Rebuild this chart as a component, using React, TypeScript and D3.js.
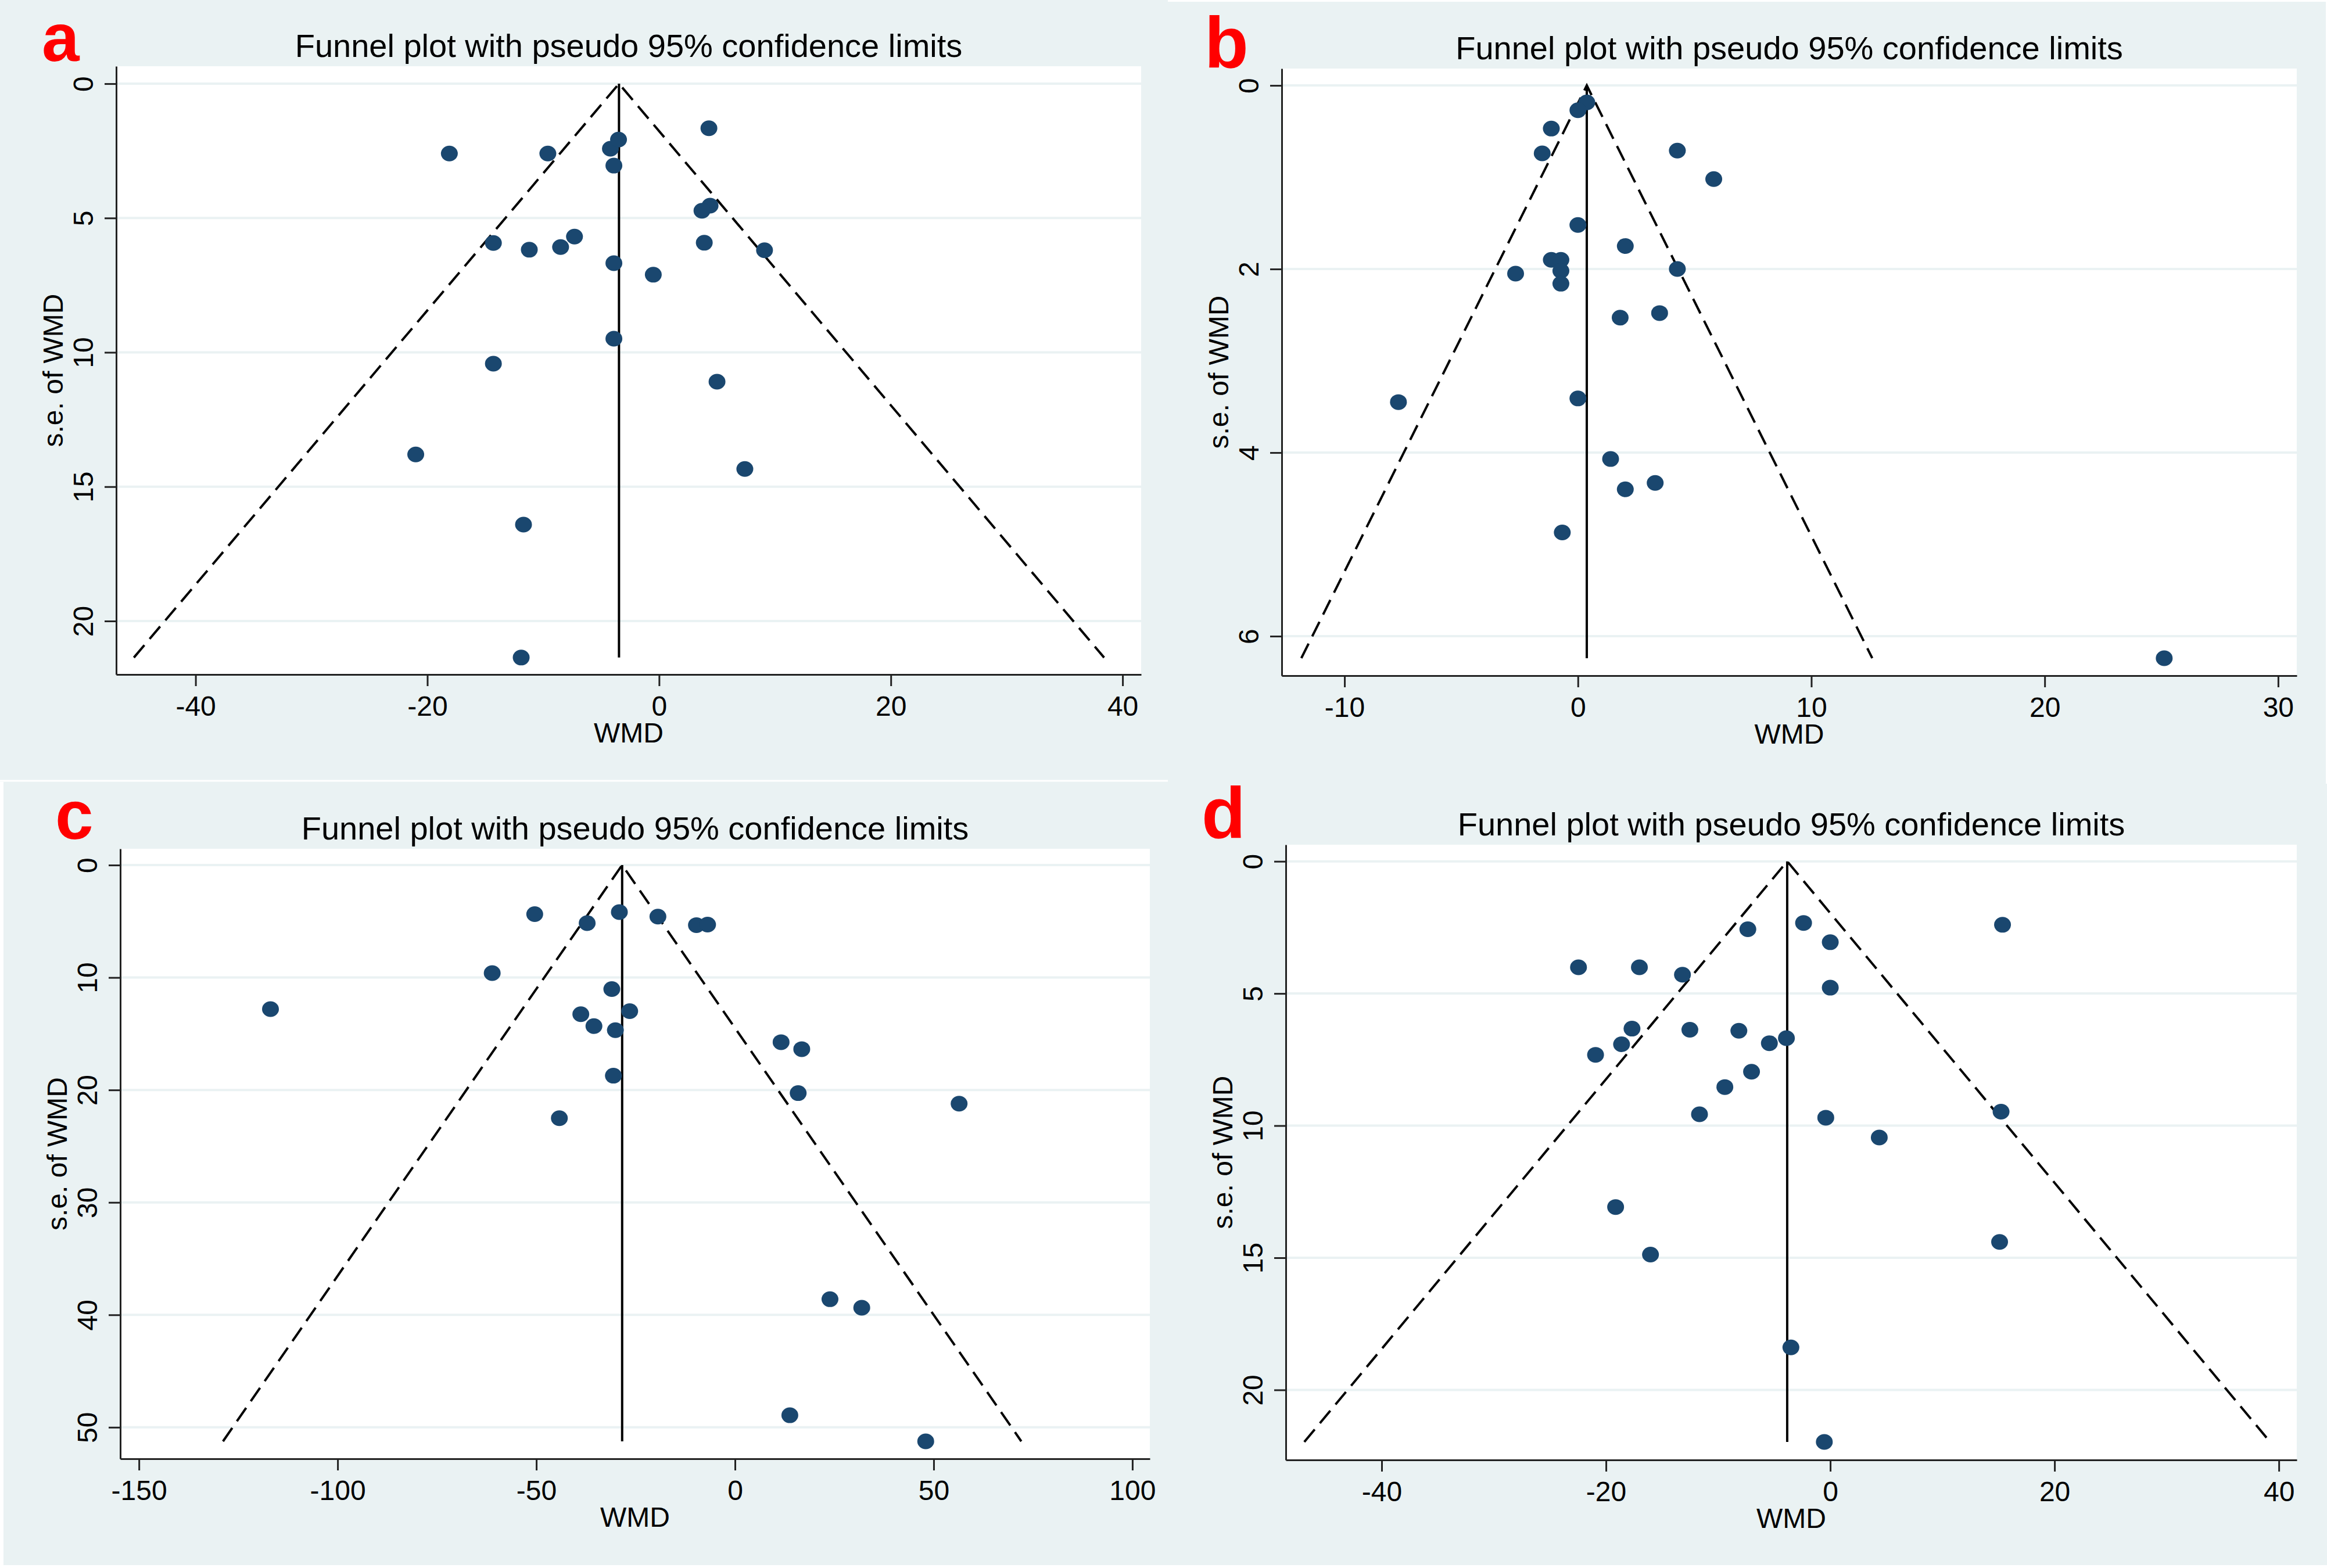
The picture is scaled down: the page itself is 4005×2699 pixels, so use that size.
import React, { useEffect, useRef } from "react";
import * as d3 from "d3";

const W = 4005;
const H = 2699;

const titleText = "Funnel plot with pseudo 95% confidence limits";
const panelLetters = ["a", "b", "c", "d"];

// panel a
const wmdA = [-18.1, -9.6, -4.2, -3.5, -3.9, 4.3, 4.4, 3.7, -14.3, -11.2, -8.5, -7.3, 3.9, 9.1, -3.9, -0.5, -3.9, -14.3, 5.0, -21.0, 7.4, -11.7, -11.9];
const seA = [2.6, 2.6, 2.42, 2.08, 3.05, 1.66, 4.54, 4.73, 5.93, 6.18, 6.08, 5.69, 5.92, 6.2, 6.68, 7.11, 9.49, 10.42, 11.09, 13.8, 14.34, 16.41, 21.36];
const xTicksA = [-40, -20, 0, 20, 40];
const yTicksA = [0, 5, 10, 15, 20];

// panel b
const wmdB = [0.38, 0, -1.14, -1.53, 4.26, 5.82, 0, 2.03, -1.14, -0.73, -2.67, -0.73, -0.73, 4.26, 1.81, 3.5, -7.69, 0, 1.4, 2.03, 3.31, -0.67, 25.12];
const seB = [0.185, 0.27, 0.47, 0.74, 0.71, 1.02, 1.52, 1.75, 1.9, 1.9, 2.05, 2.02, 2.16, 2.0, 2.53, 2.48, 3.45, 3.41, 4.07, 4.4, 4.33, 4.87, 6.24];
const xTicksB = [-10, 0, 10, 20, 30];
const yTicksB = [0, 2, 4, 6];

// panel c
const wmdC = [-50.4, -37.2, -29.1, -19.4, -9.7, -6.9, -61.1, -116.9, -31.0, -38.8, -26.5, -35.5, -30.1, -30.6, 11.6, 16.8, 15.9, 56.4, -44.2, 23.9, 31.9, 13.8, 48.0];
const seC = [4.36, 5.16, 4.18, 4.58, 5.34, 5.29, 9.61, 12.81, 11.03, 13.26, 12.99, 14.32, 14.68, 18.73, 15.75, 16.37, 20.28, 21.22, 22.51, 38.61, 39.37, 48.93, 51.25];
const xTicksC = [-150, -100, -50, 0, 50, 100];
const yTicksC = [0, 10, 20, 30, 40, 50];

// panel d
const wmdD = [-7.35, -2.38, 0, 15.36, -22.45, -17.02, -13.18, 0, -17.68, -12.52, -8.15, -18.61, -20.93, -5.43, -3.91, -7.02, -9.4, -11.66, -0.4, 15.23, 4.37, -19.14, -16.03, 15.1, -3.51, -0.53];
const seD = [2.57, 2.33, 3.06, 2.4, 4.01, 4.01, 4.29, 4.78, 6.33, 6.37, 6.41, 6.92, 7.32, 6.88, 6.69, 7.96, 8.54, 9.57, 9.7, 9.47, 10.45, 13.08, 14.88, 14.4, 18.39, 21.97];
const xTicksD = [-40, -20, 0, 20, 40];
const yTicksD = [0, 5, 10, 15, 20];

// pooled (fixed-effect) WMD of each panel, where the funnel apex sits
const pooledWmd = [-3.46, 0.38, -28.4, -3.84];

const panels = [
  { wmd: wmdA, se: seA, xTicks: xTicksA, yTicks: yTicksA, xDomain: [-46.85, 41.6], yDomain: [-0.65, 21.99], plot: [200, 114, 1964, 1161], letter: [72, 105, 116] },
  { wmd: wmdB, se: seB, xTicks: xTicksB, yTicks: yTicksB, xDomain: [-12.69, 30.8], yDomain: [-0.184, 6.43], plot: [2206, 118, 3953, 1163], letter: [2073, 116, 124] },
  { wmd: wmdC, se: seC, xTicks: xTicksC, yTicks: yTicksC, xDomain: [-154.7, 104.4], yDomain: [-1.45, 52.8], plot: [207, 1461, 1979, 2511], letter: [95, 1444, 118] },
  { wmd: wmdD, se: seD, xTicks: xTicksD, yTicks: yTicksD, xDomain: [-48.55, 41.6], yDomain: [-0.63, 22.65], plot: [2213, 1454, 3953, 2513], letter: [2068, 1442, 124] },
];

const BG = "#EAF2F3";
const DOT = "#1A476F";
const FONT = "'Liberation Sans', Arial, sans-serif";

export default function App() {
  const svgRef = useRef<SVGSVGElement>(null);

  useEffect(() => {
    const svg = d3.select(svgRef.current);
    svg.selectAll("*").remove();

    svg.append("rect").attr("width", W).attr("height", H).attr("fill", BG);
    // thin white seams between the pasted panels
    svg.append("line").attr("x1", 0).attr("x2", 2010).attr("y1", 1344).attr("y2", 1344).attr("stroke", "#fff").attr("stroke-width", 3);
    svg.append("rect").attr("x", 2010).attr("y", 0).attr("width", W - 2010).attr("height", 3).attr("fill", "#fff");
    svg.append("rect").attr("x", 4003).attr("y", 0).attr("width", 2).attr("height", 1349).attr("fill", "#fff");
    svg.append("rect").attr("x", 0).attr("y", 2694).attr("width", W).attr("height", 5).attr("fill", "#fff");
    svg.append("rect").attr("x", 0).attr("y", 1346).attr("width", 6).attr("height", H - 1346).attr("fill", "#fff");

    panels.forEach((p, i) => {
      const [l, t, r, b] = p.plot;
      const x = d3.scaleLinear().domain(p.xDomain).range([l, r]);
      const y = d3.scaleLinear().domain(p.yDomain).range([t, b]);
      const g = svg.append("g");

      g.append("rect").attr("x", l).attr("y", t).attr("width", r - l).attr("height", b - t).attr("fill", "#fff");

      // gridlines
      g.selectAll(".grid")
        .data(p.yTicks)
        .join("line")
        .attr("class", "grid")
        .attr("x1", l)
        .attr("x2", r)
        .attr("y1", (d) => y(d))
        .attr("y2", (d) => y(d))
        .attr("stroke", BG)
        .attr("stroke-width", 4);

      // funnel
      const pooled = pooledWmd[i];
      const maxSe = d3.max(p.se) as number;
      const line = d3.line<[number, number]>().x((d) => x(d[0])).y((d) => y(d[1]));
      g.append("path")
        .attr("d", line([[pooled - 1.96 * maxSe, maxSe], [pooled, 0], [pooled + 1.96 * maxSe, maxSe]]))
        .attr("fill", "none")
        .attr("stroke", "#000")
        .attr("stroke-width", 4)
        .attr("stroke-dasharray", "28 14");
      g.append("line")
        .attr("x1", x(pooled))
        .attr("x2", x(pooled))
        .attr("y1", y(0))
        .attr("y2", y(maxSe))
        .attr("stroke", "#000")
        .attr("stroke-width", 4);

      // studies
      g.selectAll(".dot")
        .data(p.wmd.map((w, k) => [w, p.se[k]]))
        .join("ellipse")
        .attr("class", "dot")
        .attr("cx", (d) => x(d[0]))
        .attr("cy", (d) => y(d[1]))
        .attr("rx", 14.5)
        .attr("ry", 13.5)
        .attr("fill", DOT);

      // x axis
      g.append("g")
        .attr("transform", `translate(0,${b})`)
        .call(d3.axisBottom(x).tickValues(p.xTicks).tickSize(20).tickSizeOuter(0).tickFormat((d) => String(d)))
        .call((a) => a.select(".domain").attr("stroke", "#222").attr("stroke-width", 3))
        .call((a) => a.selectAll(".tick line").attr("stroke", "#222").attr("stroke-width", 3))
        .call((a) =>
          a.selectAll(".tick text").attr("y", 71).attr("dy", 0).attr("fill", "#000").attr("font-size", 48).attr("font-family", FONT)
        );

      // y axis
      g.append("g")
        .attr("transform", `translate(${l},0)`)
        .call(d3.axisLeft(y).tickValues(p.yTicks).tickSize(20).tickSizeOuter(0).tickFormat((d) => String(d)))
        .call((a) => a.select(".domain").attr("stroke", "#222").attr("stroke-width", 3))
        .call((a) => a.selectAll(".tick line").attr("stroke", "#222").attr("stroke-width", 3))
        .call((a) =>
          a
            .selectAll(".tick text")
            .attr("x", 0)
            .attr("y", 0)
            .attr("dy", 0)
            .attr("transform", "translate(-40,0) rotate(-90)")
            .attr("text-anchor", "middle")
            .attr("fill", "#000")
            .attr("font-size", 48)
            .attr("font-family", FONT)
        );

      // titles
      g.append("text")
        .attr("x", (l + r) / 2)
        .attr("y", t - 16)
        .attr("text-anchor", "middle")
        .attr("font-size", 56)
        .attr("font-family", FONT)
        .attr("fill", "#000")
        .text(titleText);
      g.append("text")
        .attr("x", (l + r) / 2)
        .attr("y", b + 117)
        .attr("text-anchor", "middle")
        .attr("font-size", 48)
        .attr("font-family", FONT)
        .attr("fill", "#000")
        .text("WMD");
      g.append("text")
        .attr("transform", `translate(${l - 92},${(t + b) / 2}) rotate(-90)`)
        .attr("text-anchor", "middle")
        .attr("font-size", 48)
        .attr("font-family", FONT)
        .attr("fill", "#000")
        .text("s.e. of WMD");

      // panel letter
      const [lx, ly, ls] = p.letter;
      g.append("text")
        .attr("x", lx)
        .attr("y", ly)
        .attr("font-size", ls)
        .attr("font-weight", "bold")
        .attr("font-family", FONT)
        .attr("fill", "#FF0000")
        .text(panelLetters[i]);
    });
  }, []);

  return <svg ref={svgRef} width={W} height={H} style={{ position: "absolute", left: 0, top: 0 }}></svg>;
}
